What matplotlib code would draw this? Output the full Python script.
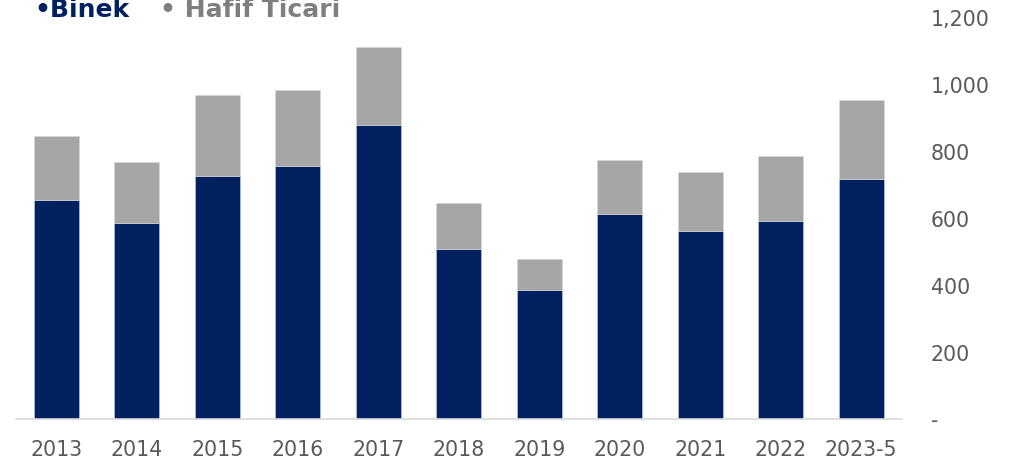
import matplotlib.pyplot as plt
import numpy as np

# yearly sales, thousands of units
years = ["2013", "2014", "2015", "2016", "2017", "2018", "2019", "2020", "2021", "2022", "2023-5"]
binek = [655, 586, 725, 755, 878, 508, 386, 611, 560, 590, 716]
toplam = [844, 767, 968, 983, 1113, 644, 476, 773, 737, 785, 953]
hafif_ticari = [t - b for t, b in zip(toplam, binek)]

navy = "#002060"
gray = "#A6A6A6"
label_color = "#595959"

fig = plt.figure(figsize=(10.25, 4.64), dpi=100)
ax = fig.add_axes([16 / 1025, 44.5 / 464, 885.5 / 1025, 401 / 464])

x = np.arange(len(years))
ax.bar(x, binek, width=0.56, color=navy, edgecolor="#c8cfe0", linewidth=0.4)
ax.bar(x, hafif_ticari, bottom=binek, width=0.56, color=gray, edgecolor="#d9d9d9", linewidth=0.4)

ax.set_xlim(-0.5, len(years) - 0.5)
ax.set_ylim(0, 1200)
ax.set_xticks(x)
ax.set_xticklabels(years)

yticks = [0, 200, 400, 600, 800, 1000, 1200]
ax.set_yticks(yticks)
ax.set_yticklabels(["-" if v == 0 else f"{v:,}" for v in yticks])
ax.yaxis.tick_right()
for lbl in ax.get_yticklabels():
    lbl.set_horizontalalignment("left")

ax.tick_params(axis="both", length=0, labelsize=14.8, colors=label_color)
ax.tick_params(axis="x", pad=15)
ax.tick_params(axis="y", pad=21)

for side in ["top", "left", "right"]:
    ax.spines[side].set_visible(False)
ax.spines["bottom"].set_color("#d9d9d9")
ax.spines["bottom"].set_linewidth(1.2)

# legend written as coloured text at the top
fig.text(34 / 1025, 447 / 464, "\u2022Binek", color=navy, fontsize=18, fontweight="bold", va="baseline")
fig.text(160 / 1025, 447 / 464, "\u2022 Hafif Ticari", color="#7f7f7f", fontsize=18, fontweight="bold", va="baseline")

fig.savefig("out.png", dpi=100)
